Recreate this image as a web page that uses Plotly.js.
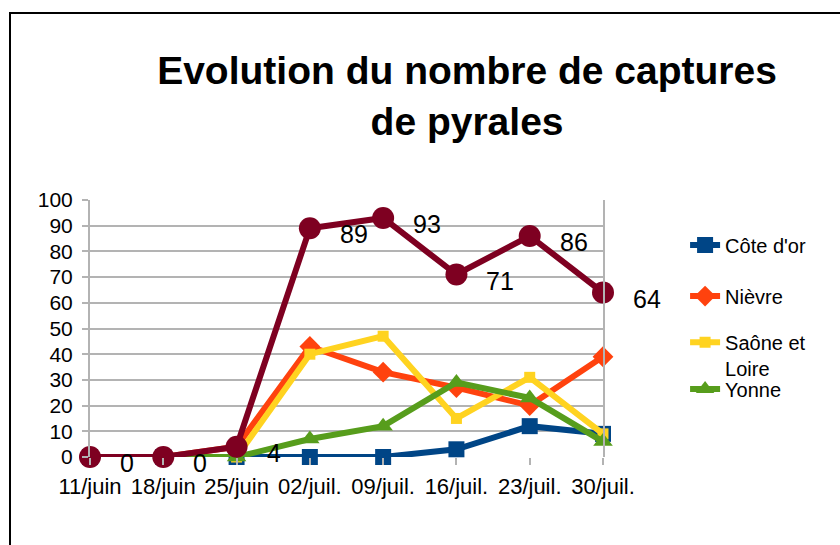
<!DOCTYPE html>
<html>
<head>
<meta charset="utf-8">
<script src="https://cdn.plot.ly/plotly-3.0.1.min.js"></script>
<style>
html,body{margin:0;padding:0;background:#fff;overflow:hidden;}
#frame{position:absolute;left:9px;top:12px;width:900px;height:600px;border:2px solid #000;box-sizing:border-box;}
#chart{position:absolute;left:0;top:0;width:840px;height:545px;}
</style>
</head>
<body>
<div id="frame"></div>
<div id="chart"></div>
<script>
const categories = ["11/juin","18/juin","25/juin","02/juil.","09/juil.","16/juil.","23/juil.","30/juil."];
const coteDOr     = [0, 0, 0, 0, 0, 3, 12, 9];
const nievre      = [0, 0, 4, 43, 33, 27, 20, 39];
const saoneLoire  = [0, 0, 0, 40, 47, 15, 31, 9];
const yonne       = [0, 0, 0, 7, 12, 29, 23, 6];
const total       = [0, 0, 4, 89, 93, 71, 86, 64];
const yTicks      = [0,10,20,30,40,50,60,70,80,90,100];

const font = "Liberation Sans, Arial, sans-serif";
const xIdx = categories.map((c,i)=>i);

function line(name, y, color, symbol, size, legendId){
  const t = {
    type:'scatter', mode:'lines+markers', name:name, x:xIdx, y:y,
    line:{color:color, width:6, shape:'linear'},
    marker:{color:color, symbol:symbol, size:size, line:{width:0}},
    cliponaxis:false
  };
  if (legendId) { t.legend = legendId; t.showlegend = true; } else { t.showlegend = false; }
  return t;
}

const traces = [
  line('Côte d\'or', coteDOr, '#004586', 'square', 16, 'legend'),
  line('Nièvre', nievre, '#ff420e', 'diamond', 16, 'legend2'),
  line('Saône et<br>Loire', saoneLoire, '#ffd320', 'square', 11, 'legend3'),
  line('Yonne', yonne, '#579d1c', 'triangle-up', 17, 'legend4'),
  line('Total', total, '#7e0021', 'circle', 22, null)
];

const annotations = total.map((v,i)=>({
  x:i, y:v, xref:'x', yref:'y', text:String(v), showarrow:false,
  xanchor:'left', xshift:28, yshift:-6, font:{family:font, size:25, color:'#000'}
}));

function leg(y, yanchor){
  return {x:1.16, xanchor:'left', y:y, yanchor:yanchor, valign:'top',
    font:{family:font, size:20, color:'#000'}, bgcolor:'rgba(0,0,0,0)', borderwidth:0};
}

const layout = {
  width:840, height:545,
  paper_bgcolor:'rgba(0,0,0,0)', plot_bgcolor:'rgba(0,0,0,0)',
  margin:{l:90, r:237, t:200, b:88, pad:0},
  title:{text:'<b>Evolution du nombre de captures<br>de pyrales</b>',
    font:{family:font, size:39, color:'#000'}, x:0.556, xanchor:'center', y:0.845, yanchor:'top'},
  xaxis:{
    range:[0,7], tickmode:'array', tickvals:xIdx, ticktext:categories,
    showgrid:false, zeroline:false, showline:false,
    ticks:'outside', ticklen:7, tickcolor:'#b3b3b3', tickwidth:2,
    ticklabelstandoff:3,
    tickfont:{family:font, size:22, color:'#000'}, fixedrange:true
  },
  yaxis:{
    range:[0,100], tickmode:'array', tickvals:yTicks,
    showgrid:true, gridcolor:'#b3b3b3', gridwidth:2,
    zeroline:false, showline:true, linecolor:'#b3b3b3', linewidth:2, mirror:true,
    ticks:'outside', ticklen:6, tickcolor:'#b3b3b3', tickwidth:2,
    ticklabelstandoff:5,
    tickfont:{family:font, size:21, color:'#000'}, fixedrange:true
  },
  legend:leg(0.825,'middle'),
  legend2:leg(0.626,'middle'),
  legend3:leg(0.522,'top'),
  legend4:leg(0.265,'middle'),
  annotations:annotations,
  showlegend:true
};

Plotly.newPlot('chart', traces, layout, {displayModeBar:false, staticPlot:true});
</script>
</body>
</html>
